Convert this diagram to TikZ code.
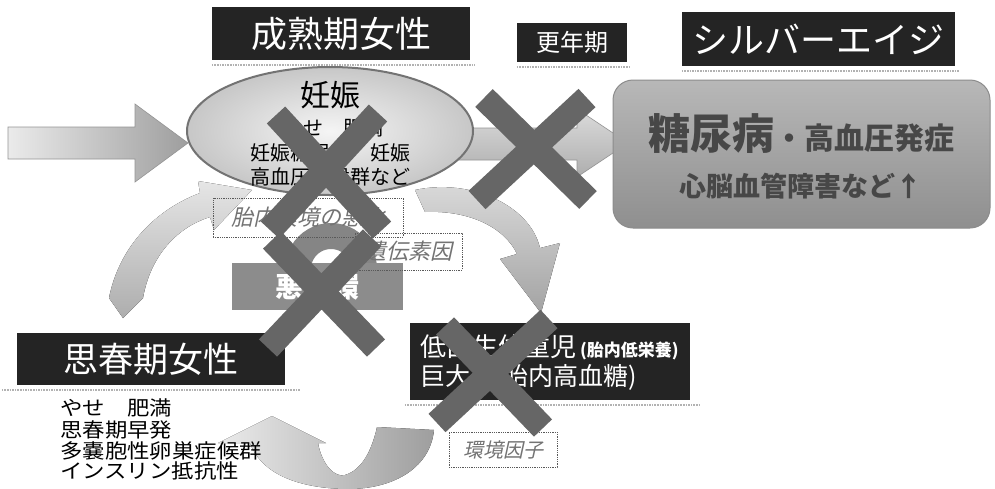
\documentclass[tikz,border=0pt]{standalone}
\usepackage{fontspec}
\newfontfamily\jp{Noto Sans CJK JP}
\newfontfamily\jpsl[FakeSlant=0.22]{Noto Sans CJK JP}
\newfontfamily\jpw[FakeStretch=1.12]{Noto Sans CJK JP}
\newcommand\jpfs[1]{\fontsize{#1pt}{#1pt}\selectfont}
\usetikzlibrary{shapes.geometric,calc}
\definecolor{boxdark}{HTML}{242424}
\begin{document}
\begin{tikzpicture}[x=1pt,y=-1pt,
  title/.style={fill=boxdark,text=white,inner sep=0pt},
  dotbox/.style={draw=black!65,densely dotted,line width=0.8pt,inner sep=0pt,text=black!55},
  xbar/.style={draw=black!60,line width=25pt},
  shadowline/.style={draw=black!30,densely dotted,line width=1.6pt},
  cycL/.style={top color=black!10,bottom color=black!32},
  cycR/.style={top color=black!14,bottom color=black!36},
  cycB/.style={left color=black!8,right color=black!38},
  blockarrow/.style={draw=black!42,line width=0.6pt}
]
\useasboundingbox (0,0) rectangle (995,488);
\fill[white] (0,0) rectangle (995,488);

% cycle arrows (background)
\fill[cycL] (123,318) -- (109,298) .. controls (118,252) and (150,212) .. (200,193) -- (198,181) -- (252,190) -- (214,230) -- (210,217) .. controls (175,228) and (150,258) .. (143,298) -- cycle;
\fill[cycR] (415,190) .. controls (470,178) and (530,205) .. (540,248) -- (560,243) -- (541,313) -- (500,259) -- (517,254) .. controls (505,228) and (470,210) .. (425,212) -- cycle;
\fill[cycB] (377,427) -- (434,430) .. controls (430,470) and (390,490) .. (345,489) .. controls (300,488) and (262,475) .. (250,443) -- (218,443) -- (272,416) -- (326,443) -- (318,443) .. controls (322,465) and (335,478) .. (345,475) .. controls (362,470) and (372,450) .. (377,427) -- cycle;

% input arrow
\coordinate (tipA) at (188,143);
\path[blockarrow,left color=black!8,right color=black!38] (8,127) -- (135,127) -- (135,104) -- (tipA) -- (135,182) -- (135,159) -- (8,159) -- cycle;

% middle arrow
\coordinate (tipB) at (628,143);
\path[blockarrow,top color=black!14,bottom color=black!32] (450,128) -- (577,128) -- (577,109) -- (tipB) -- (577,177) -- (577,160) -- (450,160) -- cycle;

% disease box
\node[draw=black!45,line width=1pt,rounded corners=20pt,top color=black!28,bottom color=black!44,minimum width=377pt,minimum height=148pt,inner sep=0pt] (dm) at (801.5,154) {};
\node[font=\jp\bfseries,text=black!72,inner sep=0pt] (dmA) at (801,134) {{\jpfs{42}糖尿病}{\jpfs{30}・高血圧発症}};
\node[font=\jp\bfseries\jpfs{27},text=black!72,inner sep=0pt] (dmB) at (801,186) {心脳血管障害など↑};

% pregnancy ellipse
\node[ellipse,draw=black!55,line width=2pt,inner color=black!4,outer color=black!22,minimum width=286pt,minimum height=128pt,inner sep=0pt] (preg) at (330,131) {};
\node[font=\jp\jpfs{30},inner sep=0pt] (pT) at (330,95) {妊娠};
\node[font=\jp\jpfs{20},inner sep=0pt] (p1) at (333,128) {やせ　肥満};
\node[font=\jp\jpfs{20},inner sep=0pt] (p2) at (330,153) {妊娠糖尿病　妊娠};
\node[font=\jp\jpfs{20},inner sep=0pt] (p3) at (330,177) {高血圧症候群など};

% small cycle dome
\fill[black!48] plot[domain=180:360,samples=25] ({331+46*cos(\x)},{269+46*sin(\x)}) -- plot[domain=360:180,samples=25] ({331+20*cos(\x)},{269+20*sin(\x)}) -- cycle;

% vicious circle
\node[fill=black!45,minimum width=171pt,minimum height=47pt,inner sep=0pt,font=\jp\bfseries\jpfs{28},text=white] (vic) at (317.5,286.5) {悪循環};

% dotted labels
\node[dotbox,minimum width=190pt,minimum height=39pt,font=\jpsl\jpfs{22}] (env) at (308,217.5) {胎内環境の悪化};
\node[dotbox,minimum width=107pt,minimum height=37pt,font=\jpsl\jpfs{22}] (gen) at (408.5,251.5) {遺伝素因};
\node[dotbox,minimum width=108pt,minimum height=35pt,font=\jpsl\jpfs{20}] (envf) at (503,449.5) {環境因子};

% title boxes
\node[title,minimum width=258pt,minimum height=53pt,font=\jp\jpfs{36}] (t1) at (341,33.5) {成熟期女性};
\node[title,minimum width=110pt,minimum height=39pt,font=\jp\jpfs{24}] (t2) at (572,42.5) {更年期};
\node[title,minimum width=273pt,minimum height=54pt,font=\jp\jpfs{36}] (t3) at (818.5,39) {シルバーエイジ};
\draw[shadowline] ($(t1.south west)+(0,5)$) -- ($(t1.south east)+(5,5)$);
\draw[shadowline] ($(t2.south west)+(0,5)$) -- ($(t2.south east)+(3,5)$);
\draw[shadowline] ($(t3.south west)+(0,5)$) -- ($(t3.south east)+(4,5)$);

% puberty
\node[title,minimum width=268pt,minimum height=52pt,font=\jp\jpfs{35}] (pub) at (151,359) {思春期女性};
\draw[shadowline] ($(pub.south west)+(-15,5)$) -- ($(pub.south east)+(15,5)$);
\node[anchor=west,font=\jpw\jpfs{20},inner sep=0pt] (l1) at (60,408) {やせ　肥満};
\node[anchor=west,font=\jpw\jpfs{20},inner sep=0pt] (l2) at (60,430) {思春期早発};
\node[anchor=west,font=\jpw\jpfs{20},inner sep=0pt] (l3) at (60,451) {多嚢胞性卵巣症候群};
\node[anchor=west,font=\jpw\jpfs{20},inner sep=0pt] (l4) at (60,471) {インスリン抵抗性};

% low birth weight
\node[title,minimum width=280pt,minimum height=77pt] (lbw) at (550,361.5) {};
\draw[shadowline] ($(lbw.south west)+(-5,5)$) -- ($(lbw.south east)+(10,5)$);
\node[anchor=west,font=\jp,text=white,inner sep=0pt] (lb1) at (420,347) {{\jpfs{26}低出生体重児}{\jpfs{17}\bfseries\ (胎内低栄養)}};
\node[anchor=west,font=\jp\jpfs{25},text=white,inner sep=0pt] (lb2) at (420,377) {巨大児(胎内高血糖)};

% crosses
\coordinate (x1a) at (276,115); \coordinate (x1b) at (382,230);
\coordinate (x1c) at (378,113); \coordinate (x1d) at (270,230);
\coordinate (x2a) at (484,98);  \coordinate (x2b) at (588,200);
\coordinate (x2c) at (587,98);  \coordinate (x2d) at (477,200);
\coordinate (x3a) at (272,240); \coordinate (x3b) at (376,348);
\coordinate (x3c) at (372,238); \coordinate (x3d) at (268,348);
\coordinate (x4a) at (445,326); \coordinate (x4b) at (543,428);
\coordinate (x4c) at (549,319); \coordinate (x4d) at (437,423);
\draw[xbar] (x1a) -- (x1b); \draw[xbar] (x1c) -- (x1d);
\draw[xbar] (x2a) -- (x2b); \draw[xbar] (x2c) -- (x2d);
\draw[xbar] (x3a) -- (x3b); \draw[xbar] (x3c) -- (x3d);
\draw[xbar] (x4a) -- (x4b); \draw[xbar] (x4c) -- (x4d);
\end{tikzpicture}
\end{document}
